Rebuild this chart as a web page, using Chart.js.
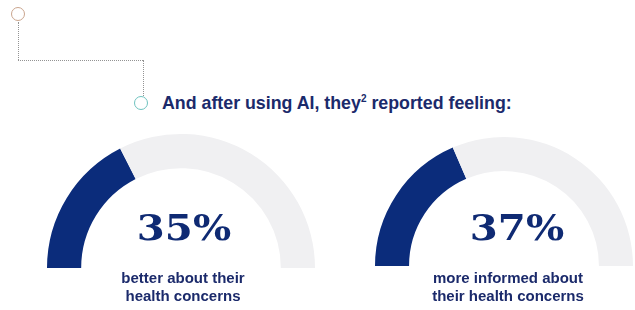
<!DOCTYPE html>
<html>
<head>
<meta charset="utf-8">
<script src="https://cdn.jsdelivr.net/npm/chart.js@4.4.1/dist/chart.umd.min.js"></script>
<style>
  body { margin: 0; background: #fff; }
  #page { position: relative; width: 635px; height: 310px; overflow: hidden; background: #fff; }
  .ring { position: absolute; box-sizing: border-box; border-radius: 50%; border: 1.6px solid; }
  .dot { position: absolute; border-color: #939393; border-style: dotted; border-width: 0; }
  #header { position: absolute; left: 162px; top: 95px; font: bold 17.8px/17px "Liberation Sans", Arial, sans-serif; color: #1b2a6b; white-space: nowrap; }
  #header sup { font-size: 10px; vertical-align: 7px; line-height: 0; }
  .gauge { position: absolute; }
  .pct { position: absolute; width: 200px; text-align: center; font: bold 35px/35px "DejaVu Serif", serif; color: #0f2a73; transform: scaleX(1.15); }
  .sub { position: absolute; width: 240px; text-align: center; font: bold 15px/18px "Liberation Sans", Arial, sans-serif; color: #1b2a6b; }
</style>
</head>
<body>
<div id="page">
  <div class="ring" style="left:11px;top:7px;width:14px;height:14px;border-color:#caa58e;"></div>
  <div class="dot" style="left:18px;top:22px;height:38px;border-left-width:1px;"></div>
  <div class="dot" style="left:18px;top:60px;width:125px;border-top-width:1px;"></div>
  <div class="dot" style="left:143px;top:60px;height:36px;border-left-width:1px;"></div>
  <div class="ring" style="left:134px;top:96px;width:14px;height:14px;border-color:#6fc3bf;"></div>
  <div id="header">And after using AI, they<sup>2</sup> reported feeling:</div>
</div>
<script>
// values
var categories = ['better about their health concerns', 'more informed about their health concerns'];
var percentValues = [35, 37];
var valueLabels = ['35%', '37%'];
var subLabels = [
  ['better about their', 'health concerns'],
  ['more informed about', 'their health concerns']
];

// where each gauge sits on the page
var gaugeBoxes = [
  {left: 47, top: 134, width: 268, height: 134, cutout: '74.5%', pctX: 184, subX: 183},
  {left: 375, top: 137, width: 258, height: 129, cutout: '73.6%', pctX: 517, subX: 508}
];

var navy = '#0b2c7b';
var track = '#f0f0f2';

function drawGauge(index)
{
  var box = gaugeBoxes[index];
  var page = document.getElementById('page');

  var wrap = document.createElement('div');
  wrap.className = 'gauge';
  wrap.style.left = box.left + 'px';
  wrap.style.top = box.top + 'px';
  wrap.style.width = box.width + 'px';
  wrap.style.height = box.height + 'px';
  var canvas = document.createElement('canvas');
  canvas.width = box.width;
  canvas.height = box.height;
  wrap.appendChild(canvas);
  page.appendChild(wrap);

  new Chart(canvas.getContext('2d'), {
    type: 'doughnut',
    data: {
      labels: [categories[index], 'rest'],
      datasets: [{
        data: [percentValues[index], 100 - percentValues[index]],
        backgroundColor: [navy, track],
        borderWidth: 0,
        hoverOffset: 0
      }]
    },
    options: {
      responsive: false,
      animation: false,
      rotation: -90,
      circumference: 180,
      cutout: box.cutout,
      layout: { padding: 0 },
      plugins: { legend: { display: false }, tooltip: { enabled: false } }
    }
  });

  var pct = document.createElement('div');
  pct.className = 'pct';
  pct.style.left = (box.pctX - 100) + 'px';
  pct.style.top = '210px';
  pct.textContent = valueLabels[index];
  page.appendChild(pct);

  var sub = document.createElement('div');
  sub.className = 'sub';
  sub.style.left = (box.subX - 120) + 'px';
  sub.style.top = '269px';
  sub.innerHTML = subLabels[index].join('<br>');
  page.appendChild(sub);
}

for (var i = 0; i < categories.length; i++) {
  drawGauge(i);
}
</script>
</body>
</html>
